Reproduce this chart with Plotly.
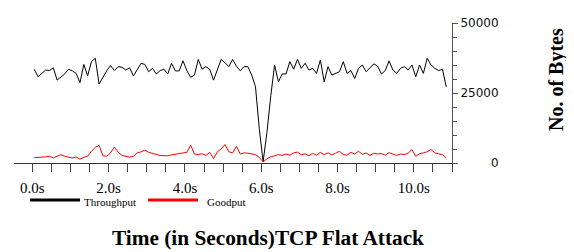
import plotly.graph_objects as go

# ---- data ----
time_s = [round(0.05 + 0.1 * i, 2) for i in range(109)]

throughput = [
    33500, 30800, 32000, 33200, 33000, 34000, 29600, 30600, 31800, 33500,
    32900, 32000, 28700, 35200, 31100, 36200, 37400, 28200, 30800, 32900,
    34800, 33000, 34400, 34200, 33200, 34000, 31100, 33200, 35600, 35200,
    32600, 33800, 31800, 33000, 33500, 31800, 35600, 32900, 32900, 36500,
    33000, 30600, 31400, 37000, 33500, 34400, 33500, 29600, 33200, 37000,
    35800, 34400, 37000, 34600, 32900, 34400, 34400, 31400, 27200, 12000,
    500, 11000, 24000, 35000, 29000, 31800, 31800, 36200, 33500, 37000,
    33800, 35600, 33200, 33800, 32000, 36800, 29000, 34400, 31400, 32000,
    32600, 36200, 32000, 33000, 30200, 33800, 35000, 32600, 34200, 35400,
    34600, 31800, 33000, 36500, 33200, 32000, 33800, 34400, 33200, 35000,
    30800, 35000, 32000, 37400, 35000, 33800, 33000, 33500, 27200,
]

goodput = [
    1900, 2100, 2100, 2200, 2400, 1800, 2400, 3000, 2400, 2100,
    1800, 2100, 1400, 2000, 2400, 4200, 5600, 6300, 2600, 2400,
    3600, 5700, 3900, 2700, 2400, 2100, 2400, 3600, 4000, 4600,
    3800, 3400, 3200, 2700, 2600, 2600, 2900, 3200, 3300, 3600,
    3800, 6400, 3200, 3000, 3300, 2700, 3800, 1600, 4000, 5000,
    6600, 4000, 3600, 6000, 3200, 3600, 3500, 3200, 3000, 2000,
    400, 1500, 2200, 2600, 3000, 2700, 3200, 2800, 3600, 3900,
    2900, 3300, 2600, 3400, 2800, 3800, 3000, 3600, 2900, 3500,
    4200, 3000, 2800, 3800, 3200, 4200, 3100, 3600, 2700, 3500,
    3200, 3400, 2800, 3700, 3200, 2700, 3200, 3000, 3500, 4800,
    2400, 3300, 3600, 4000, 4800, 3600, 3300, 3000, 1800,
]

x_tick_vals = [0, 2, 4, 6, 8, 10]
x_tick_text = ["0.0s", "2.0s", "4.0s", "6.0s", "8.0s", "10.0s"]
y_tick_vals = [0, 25000, 50000]
y_tick_text = ["\u2007\u2007\u2007\u20070", "25000", "50000"]

series_names = ["Throughput", "Goodput"]
series_colors = ["#000000", "#ff0000"]

# ---- layout geometry (pixels, page coordinates; page body has an 8px margin) ----
OFF = 8
W, H = 574 - OFF, 252 - OFF
PW, PH = 438, 140
ML, MT = 14 - OFF, 23 - OFF
MR, MB = W - ML - PW, H - MT - PH


def px_x(x):
    return (x - OFF - ML) / PW


def px_y(y):
    return (MT + PH - (y - OFF)) / PH


fig = go.Figure()
fig.add_trace(go.Scatter(x=time_s, y=throughput, mode="lines", name=series_names[0],
                         line=dict(color=series_colors[0], width=1), showlegend=False))
fig.add_trace(go.Scatter(x=time_s, y=goodput, mode="lines", name=series_names[1],
                         line=dict(color=series_colors[1], width=1), showlegend=False))

# legend drawn manually (thick sample lines)
legend_items = [(30, 80, 82), (148, 198, 205)]
for (x0, x1, tx), name, col in zip(legend_items, series_names, series_colors):
    fig.add_shape(type="line", xref="paper", yref="paper",
                  x0=px_x(x0), x1=px_x(x1), y0=px_y(200), y1=px_y(200),
                  line=dict(color=col, width=3))
    fig.add_annotation(text=name, xref="paper", yref="paper", x=px_x(tx), y=px_y(201.5),
                       xanchor="left", yanchor="middle", showarrow=False,
                       font=dict(family="Liberation Serif", size=11, color="#000"))

fig.add_annotation(text="<b>Time (in Seconds)TCP Flat Attack</b>", xref="paper", yref="paper",
                   x=px_x(268), y=px_y(238), xanchor="center", yanchor="middle", showarrow=False,
                   font=dict(family="Liberation Serif", size=21.3, color="#000"))
fig.add_annotation(text="<b>No. of Bytes</b>", xref="paper", yref="paper",
                   x=px_x(556), y=px_y(80), xanchor="center", yanchor="middle", showarrow=False,
                   textangle=-90,
                   font=dict(family="Liberation Serif", size=20, color="#000"))

fig.update_layout(
    width=W, height=H,
    margin=dict(l=ML, r=MR, t=MT, b=MB, pad=0),
    paper_bgcolor="white", plot_bgcolor="white",
    showlegend=False,
    xaxis=dict(range=[-0.48, 11.0], tickvals=x_tick_vals, ticktext=x_tick_text,
               ticks="outside", ticklen=8, tickcolor="#444", showline=True,
               linecolor="#333", linewidth=1, showgrid=False, zeroline=False,
               ticklabelstandoff=3,
               tickfont=dict(family="Liberation Serif", size=15, color="#000"),
               minor=dict(dtick=0.5, tick0=0, ticks="outside", ticklen=8, tickcolor="#444")),
    yaxis=dict(range=[0, 50000], side="right", tickvals=y_tick_vals, ticktext=y_tick_text,
               ticks="outside", ticklen=5, tickcolor="#555", showline=True,
               linecolor="#555", linewidth=1, showgrid=False, zeroline=False,
               tickfont=dict(family="DejaVu Sans", size=12, color="#111"),
               minor=dict(dtick=5000, tick0=0, ticks="outside", ticklen=4, tickcolor="#555")),
)

fig.write_html("out.html")
